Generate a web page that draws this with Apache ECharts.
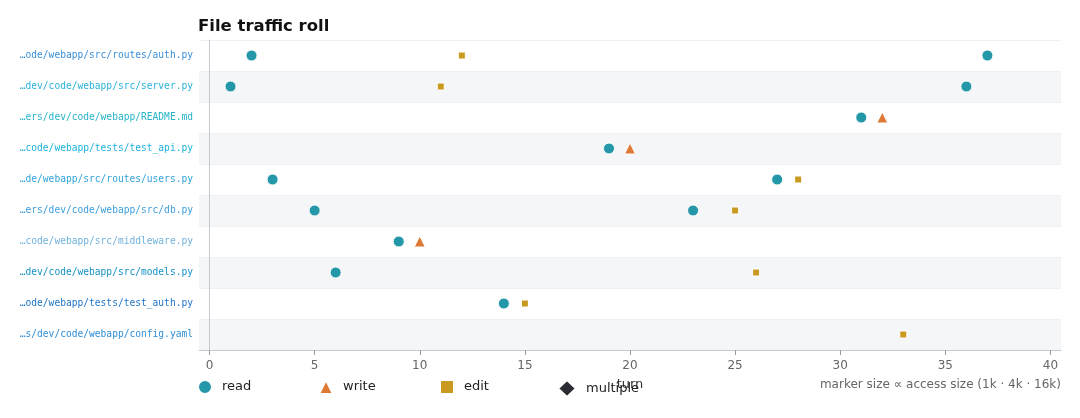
<!DOCTYPE html>
<html>
<head>
<meta charset="utf-8">
<script src="https://cdn.jsdelivr.net/npm/echarts@6/dist/echarts.min.js"></script>
<style>
  html, body { margin: 0; padding: 0; background: #fff; }
  #chart { width: 1080px; height: 418px; }
</style>
</head>
<body>
<div id="chart"></div>
<script>
// files on the y axis (top to bottom)
var files = [
    '…ode/webapp/src/routes/auth.py',
    '…dev/code/webapp/src/server.py',
    '…ers/dev/code/webapp/README.md',
    '…code/webapp/tests/test_api.py',
    '…de/webapp/src/routes/users.py',
    '…ers/dev/code/webapp/src/db.py',
    '…code/webapp/src/middleware.py',
    '…dev/code/webapp/src/models.py',
    '…ode/webapp/tests/test_auth.py',
    '…s/dev/code/webapp/config.yaml'
];
var fileColors = ['#3b8fd8', '#2bb2d9', '#27b4c9', '#1cb3da', '#30a3da',
    '#3d9edc', '#70b2de', '#1592c6', '#1f74c7', '#2f8fd7'];

// [turn, file index, access size in k]
var reads = [[2, 0, 4], [37, 0, 4], [1, 1, 4], [36, 1, 4], [31, 2, 4], [19, 3, 4],
    [3, 4, 4], [27, 4, 4], [5, 5, 4], [23, 5, 4], [9, 6, 4], [6, 7, 4], [14, 8, 4]];
var writes = [[32, 2, 4], [20, 3, 4], [10, 6, 4]];
var edits = [[12, 0, 1], [11, 1, 1], [28, 4, 1], [25, 5, 1], [26, 7, 1], [15, 8, 1], [33, 9, 1]];
var multiples = [];

var xTicks = [0, 5, 10, 15, 20, 25, 30, 35, 40];

function sizeOf(d) {
    return 7 + 2 * Math.log2(d[2]);
}

var myChart = echarts.init(document.getElementById('chart'));

function mk(name, symbol, color, data) {
    return {
        name: name,
        type: 'scatter',
        symbol: symbol,
        data: data,
        symbolSize: function (d) { return sizeOf(d); },
        itemStyle: { color: color, opacity: 1, borderColor: '#fff', borderWidth: 1 },
        z: 5
    };
}

// legend, one block per item so the spacing is even
function lg(name, icon, left, w, h) {
    return {
        left: left,
        top: 374,
        itemWidth: w || 14,
        itemHeight: h || 14,
        textStyle: { fontSize: 13, color: '#222', fontFamily: 'DejaVu Sans', padding: [0, 0, 0, 5] },
        data: [{ name: name, icon: icon }]
    };
}

var option = {
    animation: false,
    backgroundColor: '#fff',
    title: {
        text: 'File traffic roll',
        left: 193,
        top: 13,
        textStyle: { fontSize: 16.5, fontWeight: 'bold', color: '#111', fontFamily: 'DejaVu Sans' }
    },
    grid: { left: 199, right: 19, top: 40, bottom: 68, outerBoundsMode: 'none', containLabel: false },
    legend: [
        lg('read', 'circle', 192),
        lg('write', 'triangle', 313),
        lg('edit', 'rect', 434),
        lg('multiple', 'diamond', 552, 18, 17)
    ],
    graphic: [{
        type: 'text',
        right: 19,
        top: 379,
        style: {
            text: 'marker size ∝ access size (1k · 4k · 16k)',
            fill: '#666',
            fontSize: 12,
            fontFamily: 'DejaVu Sans'
        }
    }],
    xAxis: {
        type: 'value',
        min: -0.5,
        max: 40.5,
        name: 'turn',
        nameLocation: 'middle',
        nameGap: 28,
        nameTextStyle: { fontSize: 13, color: '#333', fontFamily: 'DejaVu Sans' },
        axisLine: { show: true, lineStyle: { color: '#c4c8cf' } },
        axisTick: { show: true, customValues: xTicks, length: 5, lineStyle: { color: '#999' } },
        axisLabel: { customValues: xTicks, color: '#666', fontSize: 12, margin: 10, fontFamily: 'DejaVu Sans' },
        splitLine: { show: false }
    },
    yAxis: {
        type: 'category',
        data: files,
        inverse: true,
        axisLine: { show: true, lineStyle: { color: '#c4c8cf' } },
        axisTick: { show: false },
        axisLabel: {
            fontFamily: 'DejaVu Sans Mono',
            fontSize: 9.6,
            margin: 6,
            color: function (v, i) { return fileColors[i]; }
        },
        splitLine: { show: true, lineStyle: { color: '#eef0f3' } },
        splitArea: { show: true, areaStyle: { color: ['#ffffff', '#f5f6f8'] } }
    },
    series: [
        mk('read', 'circle', '#2497a8', reads),
        mk('write', 'triangle', '#de7a35', writes),
        mk('edit', 'rect', '#c99a1f', edits),
        mk('multiple', 'diamond', '#2b2b33', multiples)
    ]
};

myChart.setOption(option);
</script>
</body>
</html>
